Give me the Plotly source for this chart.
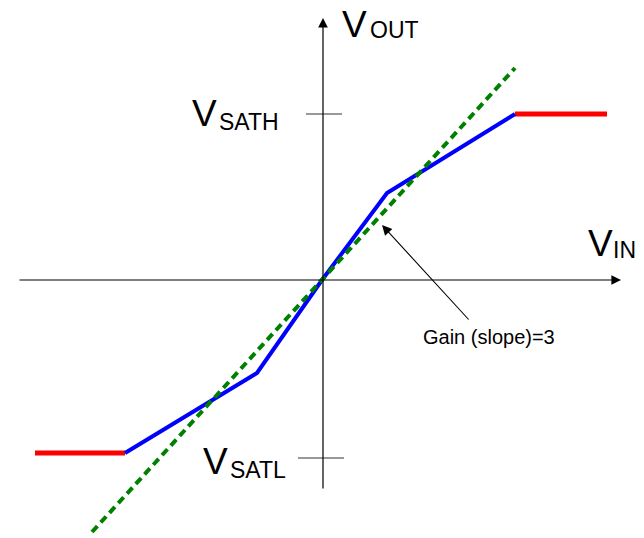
import plotly.graph_objects as go

# Coordinates: x = offset right of the V_OUT axis, y = offset above the V_IN axis
blue_x = [-197, -65, 0, 65, 193]
blue_y = [-173, -93, 0, 87, 166]
red_low_x = [-287, -197]
red_low_y = [-173, -173]
red_high_x = [193, 285]
red_high_y = [166, 166]
green_x = [-230, 193]
green_y = [-252, 212]

# axis arrows (start, tip)
vin_axis_x = [-304, 299]
vin_axis_y = [0, 0]
vout_axis_x = [1, 1]
vout_axis_y = [-210, 262]

# saturation tick marks
sath_tick_x = [-16, 20]
sath_tick_y = [166, 166]
satl_tick_x = [-24, 22]
satl_tick_y = [-178, -178]

# gain annotation arrow (text end, tip)
gain_arrow_x = [148, 60]
gain_arrow_y = [-41, 55]

FONT = "Liberation Sans, Arial, sans-serif"

fig = go.Figure()
fig.add_trace(go.Scatter(x=sath_tick_x, y=sath_tick_y, mode="lines",
                         line=dict(color="#333333", width=1.2), hoverinfo="skip"))
fig.add_trace(go.Scatter(x=satl_tick_x, y=satl_tick_y, mode="lines",
                         line=dict(color="#333333", width=1.2), hoverinfo="skip"))
fig.add_trace(go.Scatter(x=red_low_x, y=red_low_y, mode="lines",
                         line=dict(color="#ff0000", width=5), hoverinfo="skip"))
fig.add_trace(go.Scatter(x=red_high_x, y=red_high_y, mode="lines",
                         line=dict(color="#ff0000", width=5), hoverinfo="skip"))
fig.add_trace(go.Scatter(x=blue_x, y=blue_y, mode="lines",
                         line=dict(color="#0000ff", width=4), hoverinfo="skip"))
fig.add_trace(go.Scatter(x=green_x, y=green_y, mode="lines",
                         line=dict(color="#008000", width=4, dash="8px,5px"), hoverinfo="skip"))

annotations = []
# axes arrows
annotations.append(dict(x=vin_axis_x[1], y=vin_axis_y[1], ax=vin_axis_x[0], ay=vin_axis_y[0],
                        xref="x", yref="y", axref="x", ayref="y", text="", showarrow=True,
                        arrowhead=2, arrowsize=1.6, arrowwidth=1.2, arrowcolor="#000000"))
annotations.append(dict(x=vout_axis_x[1], y=vout_axis_y[1], ax=vout_axis_x[0], ay=vout_axis_y[0],
                        xref="x", yref="y", axref="x", ayref="y", text="", showarrow=True,
                        arrowhead=2, arrowsize=1.6, arrowwidth=1.2, arrowcolor="#000000"))
annotations.append(dict(x=gain_arrow_x[1], y=gain_arrow_y[1], ax=gain_arrow_x[0], ay=gain_arrow_y[0],
                        xref="x", yref="y", axref="x", ayref="y", text="", showarrow=True,
                        arrowhead=2, arrowsize=1.8, arrowwidth=1.1, arrowcolor="#000000"))

def label(main, sub, x_main, y_main, x_sub, y_sub):
    annotations.append(dict(x=x_main, y=y_main, xref="x", yref="y", text=main, showarrow=False,
                            xanchor="left", yanchor="middle",
                            font=dict(family=FONT, size=37, color="#000000")))
    annotations.append(dict(x=x_sub, y=y_sub, xref="x", yref="y", text=sub, showarrow=False,
                            xanchor="left", yanchor="middle",
                            font=dict(family=FONT, size=23, color="#000000")))

label("V", "OUT", 18, 256, 46, 250)
label("V", "SATH", -132, 167, -105, 158)
label("V", "IN", 264, 37, 289, 30)
label("V", "SATL", -121, -181, -94, -190)

annotations.append(dict(x=99, y=-57, xref="x", yref="y", text="Gain (slope)=3", showarrow=False,
                        xanchor="left", yanchor="middle",
                        font=dict(family=FONT, size=20, color="#000000")))

# page body adds an 8px offset; shift the visible window to compensate
fig.update_layout(
    width=644, height=538,
    margin=dict(l=0, r=0, t=0, b=0),
    paper_bgcolor="white", plot_bgcolor="white",
    showlegend=False,
    xaxis=dict(range=[-314, 330], visible=False, fixedrange=True),
    yaxis=dict(range=[-266, 272], visible=False, fixedrange=True),
    annotations=annotations,
)

fig.write_html("out.html")
